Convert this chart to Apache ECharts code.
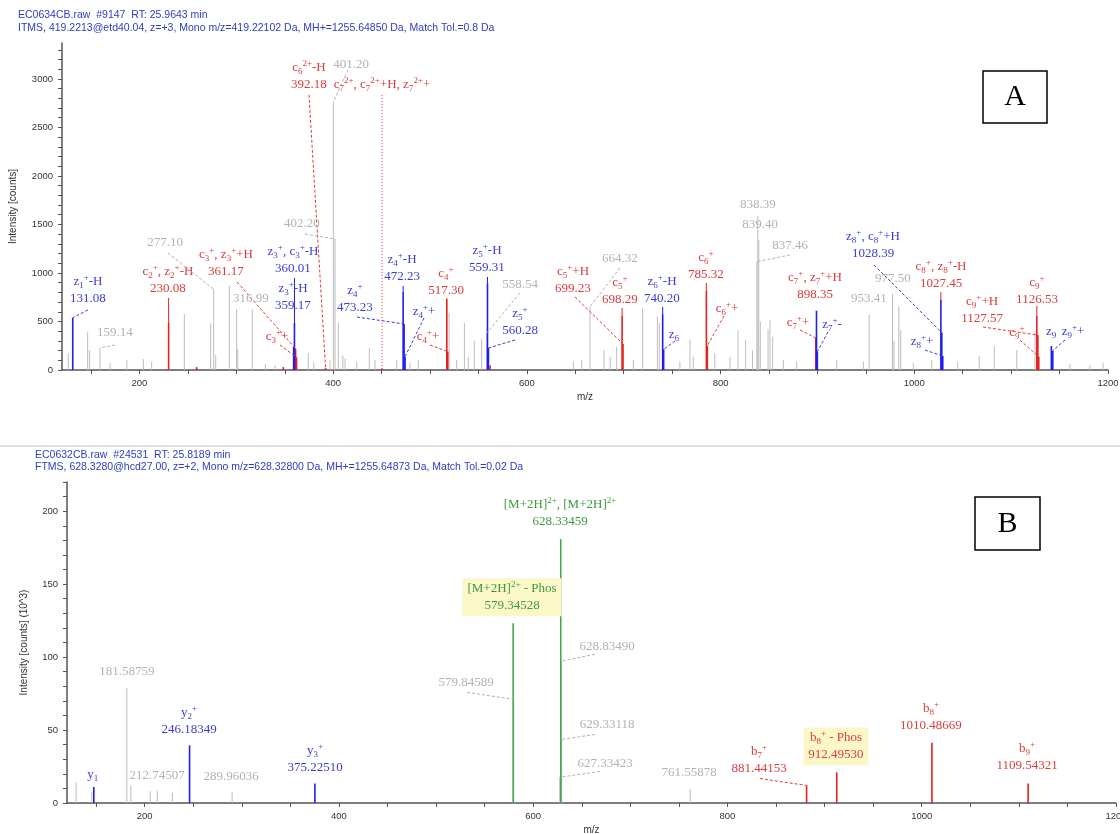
<!DOCTYPE html>
<html>
<head>
<meta charset="utf-8">
<title>ETD / HCD spectra</title>
<script src="https://cdn.jsdelivr.net/npm/echarts@6/dist/echarts.min.js"></script>
<style>
html, body { margin: 0; padding: 0; background: #fff; }
#chart { width: 1120px; height: 834px; }
</style>
</head>
<body>
<div id="chart"></div>
<script>
// ---------- panel A : ITMS, ETD spectrum (m/z, intensity [counts]) ----------
var grayA = [[126.5,172],[146.5,395],[148.5,205],[159.2,227],[169.6,72],[187,103],[204,113],[212.6,86],
  [246.3,577],[273.5,481],[276.6,832],[278.7,155],[292.8,866],[300.3,625],[301.5,213],[316.5,625],
  [330,60],[340,50],[374.3,175],[380,80],[396.7,103],[400.2,2766],[401.9,1350],[405.3,488],[410,150],
  [412.2,120],[424.3,86],[437.3,225],[443.2,103],[465.6,100],[479.3,75],[487.9,103],[519.6,590],
  [527.5,103],[535.5,488],[539.5,137],[545.7,302],[553.3,327],[558.54,380],[648,86],[656.6,103],
  [665.2,653],[679.6,206],[686,137],[692.7,240],[709.9,103],[719.5,636],[734.7,550],[736.7,485],
  [758,86],[768.4,309],[771.8,137],[794,175],[809.7,137],[818,412],[825.9,309],[833,200],
  [837.46,1116],[838.39,1590],[839.4,1340],[841,500],[849,420],[851,515],[853.8,343],[864.8,103],
  [878.6,86],[919.9,103],[947.4,86],[953.41,567],[977.5,784],[979,300],[984,653],[986,412],[999,75],
  [1018,103],[1044.8,86],[1067,144],[1082.6,247],[1105.8,206],[1124.6,395],[1160.7,60],[1181.4,50],
  [1194.9,75]];
var redA = [[230.08,485],[259,30],[348.5,30],[361.17,220],[362.2,130],[392.18,20],[450.4,15],
  [517.3,730],[518.3,190],[562,50],[698.29,557],[699.23,268],[785.32,814],[786.3,250],[898.35,330],
  [1126.53,560],[1127.57,360],[1128.5,137]];
var blueA = [[131.08,539],[359.17,240],[360.01,485],[472.23,807],[473.23,474],[474.2,137],
  [559.31,894],[560.28,227],[740.2,574],[741.2,213],[899.0,611],[899.9,189],[1027.45,722],
  [1028.39,385],[1029.4,144],[1141.5,247],[1143,200]];

// annotations A: text lines, colour key, annotated peak m/z, leader style
var annA = [
  { t: ['z_1^+-H', '131.08'], c: 'b', at: 131.08, ls: 'dash' },
  { t: ['159.14'], c: 'g', at: 159.2, ls: 'dash' },
  { t: ['c_2^+, z_2^+-H', '230.08'], c: 'r', at: 230.08, ls: 'solid' },
  { t: ['277.10'], c: 'g', at: 276.6, ls: 'dash' },
  { t: ['c_3^+, z_3^++H', '361.17'], c: 'r', at: 361.17, ls: 'dash' },
  { t: ['316.99'], c: 'g' },
  { t: ['z_3^+, c_3^+-H', '360.01'], c: 'b', at: 360.01, ls: 'solid' },
  { t: ['z_3^+-H', '359.17'], c: 'b' },
  { t: ['c_3^++'], c: 'r', at: 362.2, ls: 'dash' },
  { t: ['c_6^{2+}-H', '392.18'], c: 'r', at: 392.18, ls: 'dash' },
  { t: ['401.20'], c: 'g', at: 400.2, ls: 'dash' },
  { t: ['c_7^{2+}, c_7^{2+}+H, z_7^{2+}+'], c: 'r', at: 450.4, ls: 'dot' },
  { t: ['402.20'], c: 'g', at: 401.9, ls: 'dash' },
  { t: ['z_4^+', '473.23'], c: 'b', at: 473.23, ls: 'dash' },
  { t: ['z_4^+-H', '472.23'], c: 'b', at: 472.23, ls: 'solid' },
  { t: ['z_4^++'], c: 'b', at: 474.2, ls: 'dash' },
  { t: ['c_4^+', '517.30'], c: 'r', at: 517.3, ls: 'solid' },
  { t: ['c_4^++'], c: 'r', at: 518.3, ls: 'dash' },
  { t: ['z_5^+-H', '559.31'], c: 'b', at: 559.31, ls: 'solid' },
  { t: ['558.54'], c: 'g', at: 558.54, ls: 'dash' },
  { t: ['z_5^+', '560.28'], c: 'b', at: 560.28, ls: 'dash' },
  { t: ['c_5^++H', '699.23'], c: 'r', at: 699.23, ls: 'dash' },
  { t: ['664.32'], c: 'g', at: 665.2, ls: 'dash' },
  { t: ['c_5^+', '698.29'], c: 'r', at: 698.29, ls: 'solid' },
  { t: ['z_6^+-H', '740.20'], c: 'b', at: 740.2, ls: 'solid' },
  { t: ['z_6'], c: 'b', at: 741.2, ls: 'dash' },
  { t: ['c_6^+', '785.32'], c: 'r', at: 785.32, ls: 'solid' },
  { t: ['c_6^++'], c: 'r', at: 786.3, ls: 'dash' },
  { t: ['838.39'], c: 'g' },
  { t: ['839.40'], c: 'g' },
  { t: ['837.46'], c: 'g', at: 837.46, ls: 'dash' },
  { t: ['c_7^+, z_7^++H', '898.35'], c: 'r' },
  { t: ['c_7^++'], c: 'r', at: 898.35, ls: 'dash' },
  { t: ['z_7^+-'], c: 'b', at: 899.9, ls: 'dash' },
  { t: ['z_8^+, c_8^++H', '1028.39'], c: 'b', at: 1028.39, ls: 'dash' },
  { t: ['977.50'], c: 'g' },
  { t: ['953.41'], c: 'g' },
  { t: ['c_8^+, z_8^+-H', '1027.45'], c: 'r', at: 1027.45, ls: 'solid' },
  { t: ['z_8^++'], c: 'b', at: 1029.4, ls: 'dash' },
  { t: ['c_9^++H', '1127.57'], c: 'r', at: 1127.57, ls: 'dash' },
  { t: ['c_9^+', '1126.53'], c: 'r', at: 1126.53, ls: 'solid' },
  { t: ['c_9^+'], c: 'r', at: 1128.5, ls: 'dash' },
  { t: ['z_9'], c: 'b' },
  { t: ['z_9^++'], c: 'b', at: 1143, ls: 'dash' }
];
// label placement A (data units): label centre m/z, intensity, leader start m/z, intensity
var posA = [
  [146.8,825,146.8,619],[174.7,381,174.7,258],[229.4,928,229.4,742],[226.4,1309,229.4,1206],
  [289.3,1103,300.7,907],[315.1,732],[358.5,1134,358.5,948],[358.5,753],[342,340,345.1,258],
  [375,3031,375,2835],[418.4,3144,415.3,3093],[450.4,2938,450.4,2835],[367.8,1505,370.9,1402],
  [422.5,732,424.6,546],[471.1,1052,472.1,866],[493.8,598,493.8,536],[516.5,907,516.5,742],
  [497.9,340,500,258],[558.8,1144,559.8,959],[592.9,876,592.9,794],[592.9,495,587.7,309],
  [647.6,928,649.7,753],[696.1,1144,696.1,1052],[696.1,814,698.2,639],[739.5,825,739.5,650],
  [751.9,361,752.9,299],[784.9,1072,784.9,897],[806.6,629,803.5,557],[838.6,1701],[840.7,1495],
  [871.7,1278,871.7,1186],[897.5,866],[880,485,882,412],[915,464,910.9,392],[957.4,1289,958.4,1082],
  [978,938],[953.2,732],[1027.6,979,1027.6,804],[1008,289,1011,206],[1070,619,1071,443],
  [1126.7,814,1126.7,660],[1106,381,1109,309],[1141.2,392],[1163.9,392,1155.6,309]
];

// ---------- panel B : FTMS, HCD spectrum (m/z, intensity [counts] x10^3) ----------
var grayB = [[129.4,14.3],[145.5,7.4],[181.6,79],[185.7,12],[205.6,8.1],[213,8.1],[228.5,7],
  [290,7.7],[579.85,71],[627.33,17.7],[628.83,97.3],[629.33,43.6],[761.56,9.7]];
var blueB = [[147.6,10.9],[246.18,39.5],[375.23,13.4]];
var greenB = [[579.35,123.2],[628.33,180.8]];
var redB = [[881.44,12],[912.5,21],[1010.49,41.3],[1109.54,13.4]];

var annB = [
  { t: ['y_1'], c: 'b' },
  { t: ['181.58759'], c: 'g' },
  { t: ['212.74507'], c: 'g' },
  { t: ['y_2^+', '246.18349'], c: 'b' },
  { t: ['289.96036'], c: 'g' },
  { t: ['y_3^+', '375.22510'], c: 'b' },
  { t: ['[M+2H]^{2+} - Phos', '579.34528'], c: 'v', hl: true },
  { t: ['[M+2H]^{2+}, [M+2H]^{2+}', '628.33459'], c: 'v' },
  { t: ['579.84589'], c: 'g', at: 579.85, ls: 'dash' },
  { t: ['628.83490'], c: 'g', at: 628.83, ls: 'dash' },
  { t: ['629.33118'], c: 'g', at: 629.33, ls: 'dash' },
  { t: ['627.33423'], c: 'g', at: 627.33, ls: 'dash' },
  { t: ['761.55878'], c: 'g' },
  { t: ['b_7^+', '881.44153'], c: 'r', at: 881.44, ls: 'dash' },
  { t: ['b_8^+ - Phos', '912.49530'], c: 'r', hl: true },
  { t: ['b_8^+', '1010.48669'], c: 'r' },
  { t: ['b_9^+', '1109.54321'], c: 'r' }
];
var posB = [
  [146.4,19.6],[181.6,90.2],[212.8,18.9],[245.7,55.9],[288.9,18.2],[375.4,29.8],[578.2,141],
  [627.6,198.6],[530.9,82.7,531.9,75.8],[676,107.4,663.6,101.9],[676,53.9,663.6,47],
  [674,27.1,668.8,21.6],[760.4,21],[832.5,29.2,833.5,16.8],[911.7,38.8],[1009.5,58.7],[1108.4,31.2]
];

var xTickLabels = [200, 400, 600, 800, 1000, 1200];
var yTickLabelsA = [0, 500, 1000, 1500, 2000, 2500, 3000];
var yTickLabelsB = [0, 50, 100, 150, 200];

var COL = {
  g: { peak: '#bdbdbd', text: '#b2b2b2' },
  r: { peak: '#e5201d', text: '#dc3b3b' },
  b: { peak: '#1e1ef0', text: '#3b3bdc' },
  v: { peak: '#49a449', text: '#3d9a3d' }
};
var SERIF = '"Liberation Serif", "DejaVu Serif", serif';
var SANS = '"Liberation Sans", Arial, sans-serif';
var RICH = {
  s: { fontFamily: SERIF, fontSize: 9, lineHeight: 9, verticalAlign: 'bottom' },
  p: { fontFamily: SERIF, fontSize: 9, lineHeight: 9, verticalAlign: 'top' }
};

function steps(from, to, step) {
  var out = [];
  for (var v = from; v <= to + 1e-9; v += step) out.push(v);
  return out;
}
// "z_1^+-H" -> rich text with sub/superscripts
function toRich(s) {
  return s.replace(/\^\{([^}]*)\}/g, '{p|$1}')
          .replace(/\^(.)/g, '{p|$1}')
          .replace(/_(\w)/g, '{s|$1}');
}
function heightAt(lists, mz) {
  for (var i = 0; i < lists.length; i++) {
    for (var j = 0; j < lists[i].length; j++) {
      if (lists[i][j][0] === mz) return lists[i][j][1];
    }
  }
  return 0;
}

function stickSeries(data, color, width, idx, z) {
  return {
    type: 'custom', xAxisIndex: idx, yAxisIndex: idx, data: data, z: z,
    silent: true, encode: { x: 0, y: 1 },
    renderItem: function (params, api) {
      var top = api.coord([api.value(0), api.value(1)]);
      var bot = api.coord([api.value(0), 0]);
      return { type: 'line', shape: { x1: top[0], y1: top[1], x2: bot[0], y2: bot[1] },
        style: { stroke: color, lineWidth: width } };
    }
  };
}

function labelSeries(ann, pos, peaks, idx) {
  return {
    type: 'custom', xAxisIndex: idx, yAxisIndex: idx, z: 10, silent: true,
    data: ann.map(function (a, i) { return [pos[i][0], pos[i][1], i]; }),
    encode: { x: 0, y: 1 },
    renderItem: function (params, api) {
      var i = api.value(2);
      var a = ann[i], p = pos[i];
      var col = COL[a.c];
      var kids = [];
      if (p.length > 2 && a.at != null) {
        var h = heightAt(peaks, a.at);
        var from = a.ls === 'solid' ? api.coord([a.at, p[3]]) : api.coord([p[2], p[3]]);
        var to = api.coord([a.at, h]);
        kids.push({ type: 'line', shape: { x1: from[0], y1: from[1], x2: to[0], y2: to[1] },
          style: { stroke: a.ls === 'solid' ? col.peak : col.text, lineWidth: 1,
                   lineDash: a.ls === 'dash' ? [3, 2] : (a.ls === 'dot' ? [1, 2] : null) } });
      }
      var c = api.coord([p[0], p[1]]);
      kids.push({ type: 'text', x: c[0], y: c[1],
        style: { text: a.t.map(toRich).join('\n'), fill: col.text, fontFamily: SERIF,
                 fontSize: 13, lineHeight: 17, align: 'center', verticalAlign: 'middle', rich: RICH,
                 backgroundColor: a.hl ? '#fbf7c9' : 'transparent', padding: a.hl ? [2, 5] : 0 } });
      return { type: 'group', children: kids };
    }
  };
}

function plain(v) { return String(v); }

function xAxisFor(idx, gap) {
  return {
    type: 'value', gridIndex: idx, min: 120, max: 1200,
    name: 'm/z', nameLocation: 'middle', nameGap: gap,
    nameTextStyle: { fontFamily: SANS, fontSize: 10, color: '#333' },
    axisLine: { show: true, lineStyle: { color: '#555', width: 1.5 } },
    axisTick: { show: true, customValues: steps(150, 1200, 50), length: 4, lineStyle: { color: '#555' } },
    axisLabel: { customValues: xTickLabels, formatter: plain, fontFamily: SANS, fontSize: 9.5, color: '#333', margin: 8 },
    splitLine: { show: false }
  };
}
function yAxisFor(idx, max, name, gap, ticks, labels) {
  return {
    type: 'value', gridIndex: idx, min: 0, max: max,
    name: name, nameLocation: 'middle', nameGap: gap,
    nameTextStyle: { fontFamily: SANS, fontSize: 10, color: '#333' },
    axisLine: { show: true, lineStyle: { color: '#555', width: 1.5 } },
    axisTick: { show: true, customValues: ticks, length: 4, lineStyle: { color: '#555' } },
    axisLabel: { customValues: labels, formatter: plain, fontFamily: SANS, fontSize: 9.5, color: '#333', margin: 9 },
    splitLine: { show: false }
  };
}

var chart = echarts.init(document.getElementById('chart'));
var HEAD = '#2b3ec4';
chart.setOption({
  animation: false,
  backgroundColor: '#fff',
  grid: [
    { left: 62, top: 43, width: 1046, height: 327, outerBoundsMode: 'none' },
    { left: 67, top: 482, width: 1049, height: 321, outerBoundsMode: 'none' }
  ],
  xAxis: [xAxisFor(0, 22), xAxisFor(1, 22)],
  yAxis: [
    yAxisFor(0, 3370, 'Intensity [counts]', 44, steps(0, 3300, 100), yTickLabelsA),
    yAxisFor(1, 220, 'Intensity [counts] (10^3)', 38, steps(0, 220, 10), yTickLabelsB)
  ],
  series: [
    stickSeries(grayA, COL.g.peak, 1, 0, 2),
    stickSeries(redA, COL.r.peak, 1.6, 0, 3),
    stickSeries(blueA, COL.b.peak, 1.6, 0, 4),
    labelSeries(annA, posA, [grayA, redA, blueA], 0),
    stickSeries(grayB, COL.g.peak, 1, 1, 2),
    stickSeries(redB, COL.r.peak, 1.6, 1, 3),
    stickSeries(blueB, COL.b.peak, 1.6, 1, 4),
    stickSeries(greenB, COL.v.peak, 1.6, 1, 5),
    labelSeries(annB, posB, [grayB, redB, blueB, greenB], 1)
  ],
  graphic: [
    { type: 'text', x: 18, y: 10, style: { text: 'EC0634CB.raw  #9147  RT: 25.9643 min', fill: HEAD, font: '10.5px ' + SANS } },
    { type: 'text', x: 18, y: 23, style: { text: 'ITMS, 419.2213@etd40.04, z=+3, Mono m/z=419.22102 Da, MH+=1255.64850 Da, Match Tol.=0.8 Da', fill: HEAD, font: '10.5px ' + SANS } },
    { type: 'line', shape: { x1: 0, y1: 446, x2: 1120, y2: 446 }, style: { stroke: '#d4d4d4', lineWidth: 1.5 } },
    { type: 'text', x: 35, y: 450, style: { text: 'EC0632CB.raw  #24531  RT: 25.8189 min', fill: HEAD, font: '10.5px ' + SANS } },
    { type: 'text', x: 35, y: 462, style: { text: 'FTMS, 628.3280@hcd27.00, z=+2, Mono m/z=628.32800 Da, MH+=1255.64873 Da, Match Tol.=0.02 Da', fill: HEAD, font: '10.5px ' + SANS } },
    { type: 'rect', shape: { x: 983, y: 71, width: 64, height: 52 }, style: { fill: '#fff', stroke: '#000', lineWidth: 1.5 } },
    { type: 'text', x: 1015, y: 97, style: { text: 'A', fill: '#000', font: '30px ' + SERIF, align: 'center', verticalAlign: 'middle' } },
    { type: 'rect', shape: { x: 975, y: 497, width: 65, height: 53 }, style: { fill: '#fff', stroke: '#000', lineWidth: 1.5 } },
    { type: 'text', x: 1007.5, y: 524, style: { text: 'B', fill: '#000', font: '30px ' + SERIF, align: 'center', verticalAlign: 'middle' } }
  ]
});
</script>
</body>
</html>
